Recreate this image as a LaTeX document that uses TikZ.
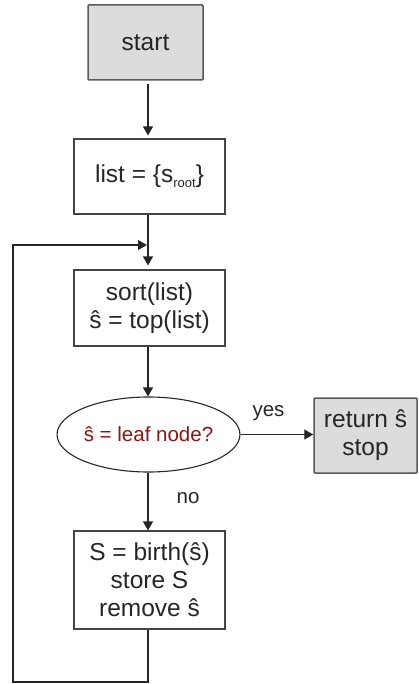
\documentclass[tikz,border=0pt]{standalone}
\usepackage{fontspec}
\setmainfont{Liberation Sans}
\usetikzlibrary{arrows.meta,shapes.geometric}
\definecolor{boxgray}{HTML}{DCDCDC}
\definecolor{edgegray}{HTML}{444444}
\definecolor{darkred}{HTML}{8B1414}
\begin{document}
\begin{tikzpicture}[x=1pt,y=-1pt,
  every node/.style={font=\fontsize{24.5}{28}\selectfont, align=center, inner sep=0pt},
  stepbox/.style={draw=edgegray, line width=1.1pt, rectangle, minimum width=#1, text=black!85},
  termbox/.style={stepbox=#1, draw=black!65, line width=1.5pt, fill=boxgray, rounded corners=1pt},
  decide/.style={draw=black!85, line width=1.1pt, ellipse, minimum width=151pt, minimum height=75pt, text=darkred, font=\fontsize{20.5}{24}\selectfont},
  lbl/.style={font=\fontsize{20.5}{24}\selectfont, text=black!85},
  conn/.style={line width=1.1pt, draw=black!85, -{Triangle[length=9pt,width=10pt]}}
]
\useasboundingbox (0,0) rectangle (418,684);

\node[termbox=115pt, minimum height=75pt] (start) at (145.5,42.5) {start};
\node[stepbox=151pt, minimum height=75pt] (list) at (149.5,176.5) {list = \{s\raisebox{-5pt}{\fontsize{13}{13}\selectfont root}\}};
\node[stepbox=151pt, minimum height=76pt] (sort) at (149.5,308) {sort(list)\\ŝ = top(list)};
\node[decide] (leaf) at (148.5,434.5) {ŝ = leaf node?};
\node[termbox=103pt, minimum height=75pt] (ret) at (365.5,435.5) {return ŝ\\stop};
\node[stepbox=151pt, minimum height=98pt] (birth) at (149.5,580) {S = birth(ŝ)\\store S\\remove ŝ};

\coordinate (merge) at (148,245);
\coordinate (bl) at (148,682);
\coordinate (bll) at (13,682);
\coordinate (tl) at (13,245);

\draw[conn, shorten <=3pt, shorten >=3pt] (start.south -| merge) -- (list.north -| merge);
\draw[conn, shorten >=4pt] (list.south -| merge) -- (sort.north -| merge);
\draw[conn] (sort.south -| merge) -- (leaf.north -| merge);
\draw[conn] (leaf.east) -- (ret.west |- leaf.east);
\draw[conn] (leaf.south -| merge) -- (birth.north -| merge);
\draw[conn] (birth.south -| merge) -- (bl) -- (bll) -- (tl) -- ([xshift=-1pt]merge);

\node[lbl] (yes) at (268.5,413) {yes};
\node[lbl] (no) at (188,498) {no};
\end{tikzpicture}
\end{document}
